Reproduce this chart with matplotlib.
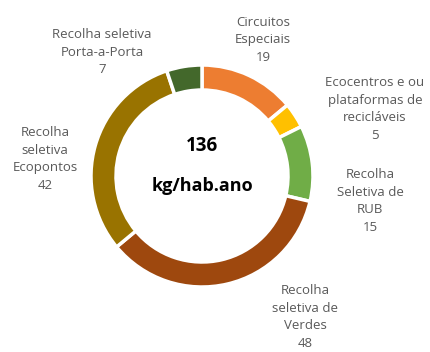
import matplotlib
matplotlib.use('Agg')
import matplotlib.pyplot as plt

labels = ['Circuitos\nEspeciais', 'Ecocentros e ou\nplataformas de\nrecicláveis',
          'Recolha\nSeletiva de\nRUB', 'Recolha\nseletiva de\nVerdes',
          'Recolha\nseletiva\nEcopontos', 'Recolha seletiva\nPorta-a-Porta']
values = [19, 5, 15, 48, 42, 7]
colors = ['#ED7D31', '#FFC000', '#70AD47', '#9E480E', '#997300', '#43682B']
total_label = 'kg/hab.ano'

# label anchor points (pixel units, origin bottom-left)
label_xy = [(263, 312), (375, 243), (370, 151), (305, 35), (45, 193), (102, 300)]

plt.rcParams['font.family'] = ['Open Sans', 'DejaVu Sans']

W, H = 430, 352
fig = plt.figure(figsize=(W / 100, H / 100), dpi=100)
ax = fig.add_axes([0, 0, 1, 1])

cx, cy, r = 202, 176, 111
ax.pie(values, colors=colors, startangle=90, counterclock=False,
       center=(cx, cy), radius=r,
       wedgeprops=dict(width=25, edgecolor='white', linewidth=2.5))
ax.set_xlim(0, W)
ax.set_ylim(0, H)
ax.set_aspect('equal')
ax.axis('off')

for lab, val, (x, y) in zip(labels, values, label_xy):
    ax.text(x, y, f'{lab}\n{val}', ha='center', va='center', fontsize=9.5,
            color='#595959', linespacing=1.45)

ax.text(cx, 206, str(sum(values)), ha='center', va='center', fontsize=13.5,
        fontweight='bold', color='black')
ax.text(cx, 166, total_label, ha='center', va='center', fontsize=13,
        fontweight='bold', color='black')

fig.savefig('out.png', dpi=100)
